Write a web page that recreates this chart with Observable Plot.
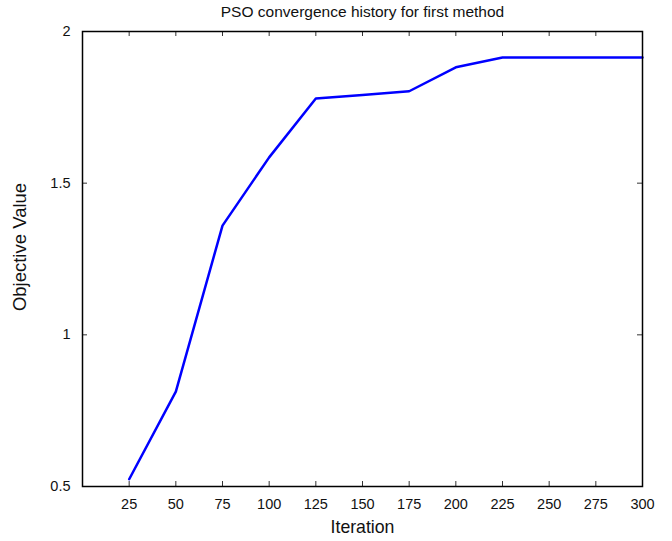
<!DOCTYPE html>
<html>
<head>
<meta charset="utf-8">
<script src="https://cdn.jsdelivr.net/npm/d3@7"></script>
<script src="https://cdn.jsdelivr.net/npm/@observablehq/plot@0.6"></script>
<style>
  html, body { margin: 0; padding: 0; background: #fff; }
  #chart svg { display: block; }
</style>
</head>
<body>
<div id="chart"></div>
<script>
// ---- data ----
const iterations = [25, 50, 75, 100, 125, 150, 175, 200, 225, 250, 275, 300];
const objectiveValues = [0.524, 0.813, 1.36, 1.585, 1.779, 1.791, 1.803, 1.882, 1.914, 1.914, 1.914, 1.914];
const xTicks = [25, 50, 75, 100, 125, 150, 175, 200, 225, 250, 275, 300];
const yTicks = [0.5, 1, 1.5, 2];
const yTickLabels = ["0.5", "1", "1.5", "2"];
const titleText = "PSO convergence history for first method";
const xLabel = "Iteration";
const yLabel = "Objective Value";

const data = iterations.map((x, i) => ({x, y: objectiveValues[i]}));

const W = 672, H = 541;
const mL = 82, mR = 30, mT = 31, mB = 55;
const innerW = W - mL - mR, innerH = H - mT - mB;
const tickLen = 5;
const font = "'Liberation Sans', Arial, Helvetica, sans-serif";

const chart = Plot.plot({
  width: W,
  height: H,
  marginLeft: mL,
  marginRight: mR,
  marginTop: mT,
  marginBottom: mB,
  style: {fontFamily: font, fontSize: "14.5px", color: "#111", background: "#fff"},
  x: {domain: [0, 300]},
  y: {domain: [0.5, 2]},
  marks: [
    Plot.line(data, {x: "x", y: "y", stroke: "#0000ff", strokeWidth: 2.5}),
    Plot.tickX(xTicks, {x: d => d, stroke: "#333", strokeWidth: 1, insetTop: innerH - tickLen}),
    Plot.tickX(xTicks, {x: d => d, stroke: "#333", strokeWidth: 1, insetBottom: innerH - tickLen}),
    Plot.tickY(yTicks, {y: d => d, stroke: "#333", strokeWidth: 1, insetRight: innerW - tickLen}),
    Plot.tickY(yTicks, {y: d => d, stroke: "#333", strokeWidth: 1, insetLeft: innerW - tickLen}),
    Plot.frame({stroke: "#000", strokeWidth: 1.5}),
    Plot.axisX({ticks: xTicks, tickSize: 0, tickPadding: 12, fontSize: 14.5, label: null}),
    Plot.axisY({ticks: yTicks, tickSize: 0, tickPadding: 12, fontSize: 14.5, label: null,
      tickFormat: d => yTickLabels[yTicks.indexOf(d)]}),
    Plot.text([titleText], {text: d => d, frameAnchor: "top", textAnchor: "middle", lineAnchor: "middle", dy: -19, fontSize: 15.5, fill: "#111"}),
    Plot.text([xLabel], {text: d => d, frameAnchor: "bottom", textAnchor: "middle", lineAnchor: "middle", dy: 41, fontSize: 17.7, fill: "#111"}),
    Plot.text([yLabel], {text: d => d, frameAnchor: "left", textAnchor: "middle", lineAnchor: "middle", dx: -62, dy: -12, rotate: -90, fontSize: 18.5, fill: "#111"})
  ]
});

document.getElementById("chart").appendChild(chart);
</script>
</body>
</html>
